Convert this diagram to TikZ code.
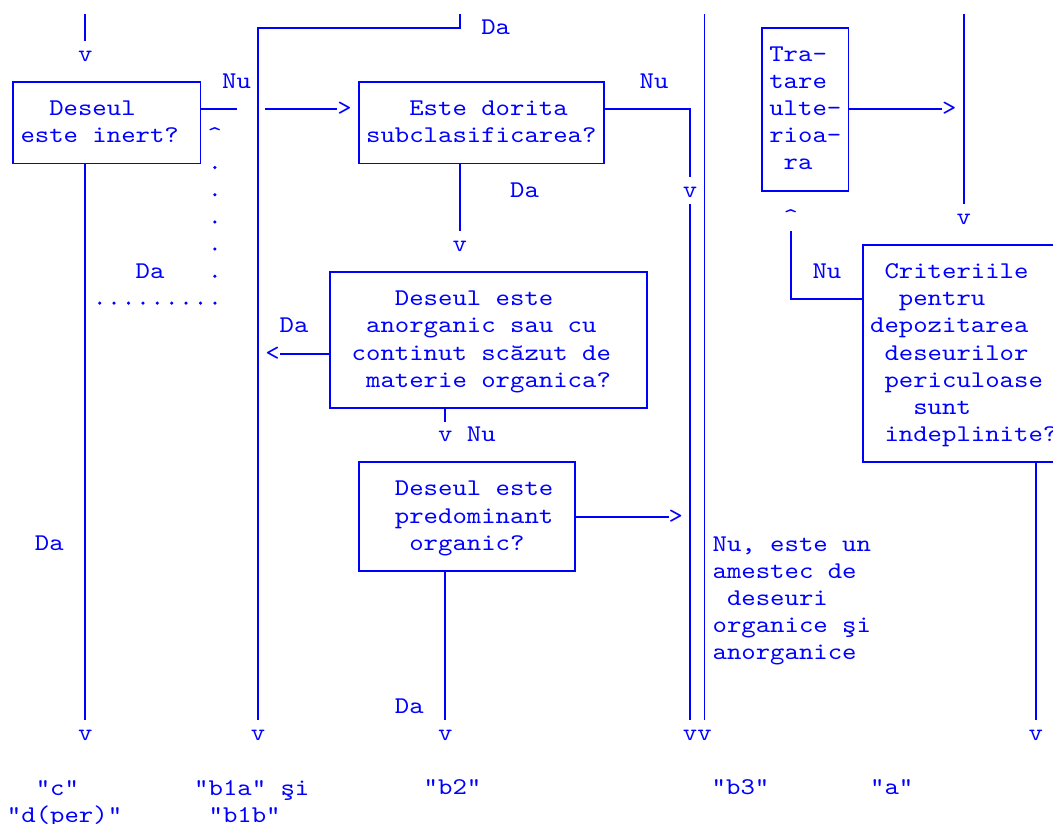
\documentclass[tikz,border=0pt]{standalone}
\usepackage{fontspec}
\usepackage{tikz}
\setmonofont{lmmono10-regular.otf}[FakeStretch=1.142857,HyphenChar=None,WordSpace={1,0,0}]
\newcommand{\randinceput}{\baselineskip=27.17pt\relax\spaceskip=14.4pt\relax\xspaceskip=14.4pt\relax\vrule height19.98pt depth7.19pt width0pt\relax}
\newcommand{\randsfarsit}{\vrule height19.98pt depth7.19pt width0pt\relax}
\tikzstyle{intrebare} = [draw, align=left, inner ysep=0pt, inner xsep=7.2pt, execute at begin node=\randinceput, execute at end node=\randsfarsit]
\tikzstyle{varf} = [inner sep=0pt, outer sep=0pt, text height=19.98pt, text depth=7.19pt]
\tikzstyle{eticheta} = [anchor=north west, inner sep=0pt, align=left, execute at begin node=\randinceput, execute at end node=\randsfarsit]
\tikzstyle{puncte} = [line width=3.5pt, line cap=round, dash pattern=on 0pt off 14.4pt]
\tikzstyle{puncteV} = [line width=3.5pt, line cap=round, dash pattern=on 0pt off 27.17pt]

\begin{document}
\begin{tikzpicture}[x=14.4pt,y=-27.17pt,line width=1.8pt,color=blue,font=\ttfamily\fontsize{24pt}{27.17pt}\selectfont\frenchspacing]
  \useasboundingbox (-13.3pt,27.63pt) rectangle (1039.7pt,-795.37pt);

  \node[intrebare, text width=172.8pt, minimum height=81.51pt] (D_inert) at (6.5,3.5) {\ \ Deseul\\este~inert?};
  \node[intrebare, text width=230.4pt, minimum height=81.51pt] (D_sub) at (32.5,3.5) {\ \ \ Este~dorita\\subclasificarea?};
  \node[intrebare, inner xsep=21.6pt, text width=273.6pt, minimum height=135.85pt] (D_anorg) at (33,11.5) {\ \ \ Deseul~este\\\ anorganic~sau~cu\\continut~scăzut~de\\\ materie~organica?};
  \node[intrebare, inner xsep=36pt, text width=144pt, minimum height=108.68pt] (D_org) at (31.5,18) {Deseul~este\\predominant\\\ organic?};
  \node[intrebare, text width=72pt, minimum height=163.02pt] (T_ult) at (55,3) {Tra-\\tare\\ulte-\\rioa-\\\ ra};
  \node[intrebare, text width=187.2pt, minimum height=217.36pt] (C_dep) at (66,12) {\ Criteriile\\\ \ pentru\\depozitarea\\\ deseurilor\\\ periculoase\\\ \ \ sunt\\\ indeplinite?};

  \node[varf] (v_sus) at (5,1) {v};
  \node[varf] (s_sub) at (23,3) {>};
  \node[varf] (c_da) at (14,4) {\textasciicircum};
  \node[varf] (v_sub) at (31,8) {v};
  \node[varf] (v_nu) at (47,6) {v};
  \node[varf] (s_da) at (18,12) {<};
  \node[varf] (v_org) at (30,15) {v};
  \node[varf] (s_org) at (46,18) {>};
  \node[varf] (s_ult) at (65,3) {>};
  \node[varf] (v_crit) at (66,7) {v};
  \node[varf] (c_ult) at (54,7) {\textasciicircum};
  \node[varf] (v_c) at (5,26) {v};
  \node[varf] (v_b1) at (17,26) {v};
  \node[varf] (v_b2) at (30,26) {v};
  \node[varf] (v_b3a) at (47,26) {v};
  \node[varf] (v_b3b) at (48,26) {v};
  \node[varf] (v_a) at (71,26) {v};

  \node[varf] (l_nu1) at (15.5,2) {Nu};
  \node[varf] (l_da0) at (33.5,0) {Da};
  \node[varf] (l_nu2) at (44.5,2) {Nu};
  \node[varf] (l_da2) at (35.5,6) {Da};
  \node[varf] (l_da1) at (9.5,9) {Da};
  \node[varf] (l_nu6) at (56.5,9) {Nu};
  \node[varf] (l_da3) at (19.5,11) {Da};
  \node[varf] (l_nu3) at (32.5,15) {Nu};
  \node[varf] (l_dac) at (2.5,19) {Da};
  \node[varf] (l_da4) at (27.5,25) {Da};
  \node[eticheta, text width=158.4pt] (l_mix) at (48.5,18.5) {Nu,~este~un\\amestec~de\\\ deseuri\\organice~şi\\anorganice};

  \node[eticheta, text width=115.2pt] (r_c) at (-0.5,27.5) {\ \ "c"\\"d(per)"};
  \node[eticheta, text width=115.2pt] (r_b1) at (12.5,27.5) {"b1a"~şi\\\ "b1b"};
  \node[varf] (r_b2) at (30.5,28) {"b2"};
  \node[varf] (r_b3) at (50.5,28) {"b3"};
  \node[varf] (r_a) at (61,28) {"a"};

  \coordinate (i_c) at (5,-0.5);
  \coordinate (i_b) at (31,-0.5);
  \coordinate (k_b) at (31,0);
  \coordinate (i_b3) at (48,-0.5);
  \coordinate (i_a) at (66,-0.5);
  \coordinate (g_st) at (15.5,3);
  \coordinate (g_dr) at (17.5,3);
  \coordinate (k_nu) at (47,3);
  \coordinate (k_crit) at (54,10);
  \coordinate (p_st) at (6,10.14);
  \coordinate (p_col) at (14.02,10.14);
  \coordinate (p_jos) at (14,9.15);
  \coordinate (p_sus) at (14,5.14);

  \draw (i_c) -- (v_sus.north);
  \draw (D_inert.east |- s_sub) -- (g_st) (g_dr) -- (s_sub.west);
  \draw (v_c |- D_inert.south) -- (v_c.north);
  \draw[puncte] (p_st) -- (p_col);
  \draw[puncteV] (p_jos) -- (p_sus);
  \draw (i_b) -- (k_b) -| (v_b1.north);
  \draw (D_sub.east |- k_nu) -- (k_nu) -- (v_nu.north);
  \draw (v_nu.south) -- (v_b3a.north);
  \draw (i_b3) -- (v_b3b.north);
  \draw (v_sub |- D_sub.south) -- (v_sub.north);
  \draw (D_anorg.west |- s_da) -- (s_da.east);
  \draw (v_org |- D_anorg.south) -- (v_org.north);
  \draw (D_org.east |- s_org) -- (s_org.west);
  \draw (v_b2 |- D_org.south) -- (v_b2.north);
  \draw (T_ult.east |- s_ult) -- (s_ult.west);
  \draw (i_a) -- (v_crit.north);
  \draw (C_dep.west |- k_crit) -- (k_crit) -- (c_ult.south);
  \draw (v_a |- C_dep.south) -- (v_a.north);
\end{tikzpicture}
\end{document}
